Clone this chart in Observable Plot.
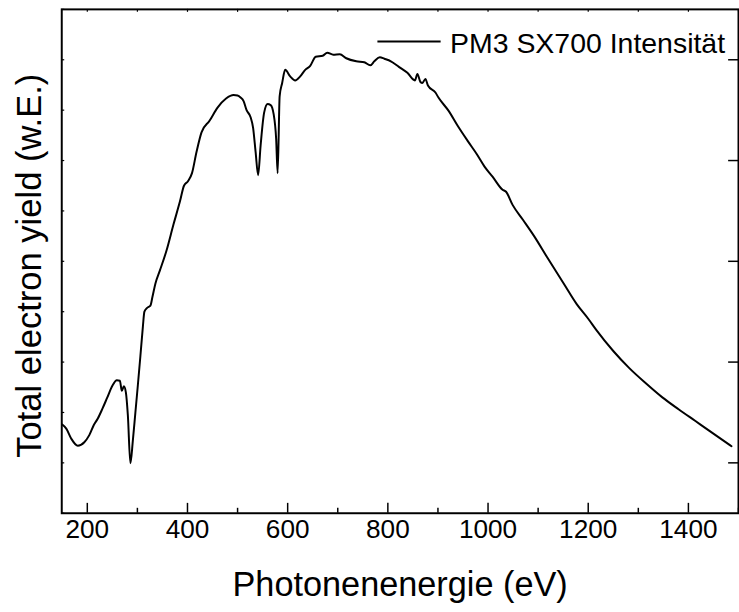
<!DOCTYPE html>
<html>
<head>
<meta charset="utf-8">
<script src="https://cdn.jsdelivr.net/npm/d3@7"></script>
<script src="https://cdn.jsdelivr.net/npm/@observablehq/plot@0.6"></script>
<style>
  html, body { margin: 0; padding: 0; background: #fff; overflow: hidden; }
  #chart { width: 739px; height: 612px; overflow: hidden; }
</style>
</head>
<body>
<div id="chart"></div>
<script>
// ---- data ----
const energy = [150, 158, 168, 181, 194, 204, 213, 221, 230, 240, 250, 259, 265, 269, 273, 277, 281, 286, 291, 296, 301, 306, 311, 314, 320, 326, 330, 336, 345, 358, 372, 385, 393, 401, 409, 418, 428, 444, 460, 477, 492, 500, 506, 512, 518, 526, 531, 536, 541, 546, 553, 560, 566, 572, 577, 580, 584, 589, 595, 605, 615, 625, 635, 645, 656, 670, 679, 691, 704, 717, 737, 753, 765, 773, 784, 793, 806, 822, 839, 854, 859, 865, 869, 875, 880, 895, 901, 921, 940, 960, 978, 993, 1009, 1029, 1036, 1049, 1070, 1092, 1118, 1151, 1177, 1200, 1216, 1250, 1282, 1315, 1348, 1381, 1414, 1447, 1486];
const intensity = [1.76, 1.68, 1.48, 1.34, 1.41, 1.55, 1.75, 1.88, 2.07, 2.30, 2.53, 2.64, 2.63, 2.43, 2.52, 2.40, 1.94, 0.99, 1.45, 2.00, 2.55, 3.12, 3.71, 4.00, 4.08, 4.12, 4.29, 4.56, 4.82, 5.21, 5.73, 6.19, 6.50, 6.59, 6.75, 7.17, 7.56, 7.79, 8.05, 8.23, 8.30, 8.29, 8.25, 8.18, 8.00, 7.86, 7.65, 7.17, 6.71, 7.30, 7.95, 8.12, 8.10, 7.92, 7.43, 6.75, 8.28, 8.54, 8.80, 8.67, 8.59, 8.67, 8.80, 8.88, 9.06, 9.08, 9.14, 9.10, 9.11, 9.03, 8.97, 8.95, 8.89, 8.97, 9.05, 9.02, 8.97, 8.86, 8.74, 8.59, 8.72, 8.56, 8.54, 8.62, 8.49, 8.35, 8.25, 7.99, 7.68, 7.38, 7.12, 6.88, 6.68, 6.42, 6.38, 6.12, 5.82, 5.50, 5.08, 4.56, 4.15, 3.86, 3.64, 3.22, 2.88, 2.58, 2.30, 2.06, 1.83, 1.60, 1.33];

const xMajorTicks = [200, 400, 600, 800, 1000, 1200, 1400];
const xMinorTicks = [300, 500, 700, 900, 1100, 1300, 1500];
const xAllTicks = [200, 300, 400, 500, 600, 700, 800, 900, 1000, 1100, 1200, 1300, 1400, 1500];
const yTicks = [0, 1, 2, 3, 4, 5, 6, 7, 8, 9, 10];
const yRightTicks = [1, 3, 5, 7, 9];
const xLabel = "Photonenenergie (eV)";
const yLabel = "Total electron yield (w.E.)";
const seriesName = "PM3 SX700 Intensität";

const data = energy.map((e, i) => ({energy: e, value: intensity[i]}));
const font = "'Liberation Sans', Arial, Helvetica, sans-serif";

// legend swatch line
const legendLine = () => {
  const g = d3.create("svg:g");
  g.append("line")
    .attr("x1", 382).attr("x2", 446)
    .attr("y1", 42).attr("y2", 42)
    .attr("stroke", "#000").attr("stroke-width", 2);
  return g.node();
};

const plot = Plot.plot({
  width: 748,
  height: 612,
  marginLeft: 62,
  marginRight: 1,
  marginTop: 9,
  marginBottom: 93,
  style: {fontFamily: font, background: "#fff", color: "#000", overflow: "visible"},
  x: {domain: [149, 1500], label: null},
  y: {domain: [0, 10], label: null, axis: null},
  marks: [
    // inward tick marks
    Plot.ruleX(xMajorTicks, {x: d => d, insetTop: 500, stroke: "#000", strokeWidth: 1.5}),
    Plot.ruleX(xMinorTicks, {x: d => d, insetTop: 505, stroke: "#000", strokeWidth: 1.5}),
    Plot.ruleX(xAllTicks, {x: d => d, insetBottom: 507, stroke: "#000", strokeWidth: 1.2}),
    Plot.ruleY(yTicks, {y: d => d, insetRight: 682, stroke: "#000", strokeWidth: 1.2}),
    Plot.ruleY(yRightTicks, {y: d => d, insetLeft: 675, stroke: "#000", strokeWidth: 1.5}),
    Plot.frame({stroke: "#000", strokeWidth: 2}),
    Plot.axisX({ticks: xMajorTicks, tickSize: 0, tickPadding: 6, fontSize: 26.5, tickFormat: d => String(d)}),
    // data curve
    Plot.line(data, {x: "energy", y: "value", stroke: "#000", strokeWidth: 2, curve: "monotone-x"}),
    // axis titles
    Plot.text([xLabel], {frameAnchor: "bottom", dy: 73, fontSize: 34.7, lineAnchor: "middle", fill: "#000"}),
    Plot.text([yLabel], {frameAnchor: "left", rotate: -90, textAnchor: "middle", dx: -32, dy: 4.5, fontSize: 35, lineAnchor: "middle", fill: "#000"}),
    // legend
    legendLine,
    Plot.text([seriesName], {frameAnchor: "top-left", dx: 393, dy: 24, textAnchor: "start", lineAnchor: "top", fontSize: 28.8, fill: "#000"})
  ]
});

document.getElementById("chart").appendChild(plot);
</script>
</body>
</html>
